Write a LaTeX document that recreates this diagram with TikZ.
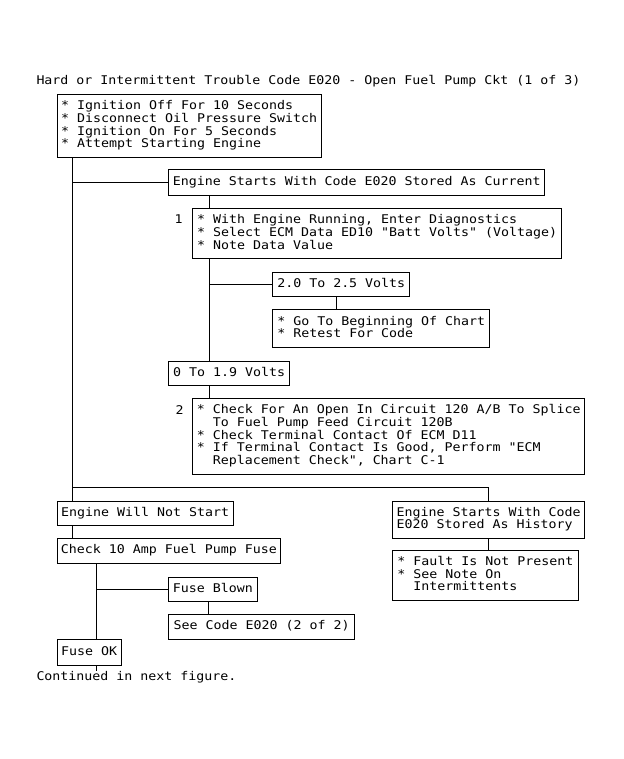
\documentclass[tikz,border=0pt]{standalone}
\usepackage{fontspec}
\setmonofont{DejaVu Sans Mono}[FakeStretch=1.107,WordSpace={1,0,0}]
\newcommand\sst{\rule[-3.5pt]{0pt}{12.7pt}}
\tikzset{
  txt/.style={font=\ttfamily\fontsize{12}{12.7}\selectfont, inner sep=0pt},
  bx/.style={txt, draw, line width=0.9pt, anchor=north west,
    inner xsep=3.7pt, inner ysep=0pt, align=left,
    execute at begin node={\sst},
    execute at end node={\sst}},
  ln/.style={line width=0.9pt},
}
\newcommand\ind{\hspace*{16pt}}
\begin{document}
\begin{tikzpicture}[x=1pt,y=1pt]
\useasboundingbox (0,0) rectangle (623,-759);
% title and free labels
\node[txt, anchor=base west] (title) at (36.3,-85) {Hard or Intermittent Trouble Code E020 - Open Fuel Pump Ckt (1 of 3)};
% boxes
\node[bx, minimum width=264pt, minimum height=63.3pt] (box1) at (56.7,-94)
  {* Ignition Off For 10 Seconds\\{}* Disconnect Oil Pressure Switch\\{}* Ignition On For 5 Seconds\\{}* Attempt Starting Engine};
\node[bx, minimum width=376pt, minimum height=25.7pt] (ecur) at (168.3,-169.3)
  {Engine Starts With Code E020 Stored As Current};
\node[bx, minimum width=368.7pt, minimum height=50pt] (diag) at (192.3,-208.3)
  {* With Engine Running, Enter Diagnostics\\{}* Select ECM Data ED10 "Batt Volts" (Voltage)\\{}* Note Data Value};
\node[txt, anchor=base west] (n1) at (174.5,-223.5) {1};
\node[bx, minimum width=137pt, minimum height=24.3pt] (v2) at (272.3,-271.7)
  {2.0 To 2.5 Volts};
\node[bx, minimum width=217pt, minimum height=38pt] (goto) at (272.3,-309.3)
  {* Go To Beginning Of Chart\\{}* Retest For Code};
\node[bx, minimum width=120.7pt, minimum height=24.6pt] (v1) at (168.3,-360.7)
  {0 To 1.9 Volts};
\node[bx, minimum width=392pt, minimum height=75.2pt] (chk) at (192.3,-398.3)
  {* Check For An Open In Circuit 120 A/B To Splice\\\ind To Fuel Pump Feed Circuit 120B\\{}* Check Terminal Contact Of ECM D11\\{}* If Terminal Contact Is Good, Perform "ECM\\\ind Replacement Check", Chart C-1};
\node[txt, anchor=base west] (n2) at (175.5,-414.5) {2};
\node[bx, minimum width=176pt, minimum height=24.3pt] (ewns) at (56.7,-500.7)
  {Engine Will Not Start};
\node[bx, minimum width=192.3pt, minimum height=37.3pt] (hist) at (392,-500.7)
  {Engine Starts With Code\\E020 Stored As History};
\node[bx, minimum width=185.7pt, minimum height=50pt] (fault) at (392,-550)
  {* Fault Is Not Present\\{}* See Note On\\\ind Intermittents};
\node[bx, minimum width=223.3pt, minimum height=24.4pt] (fuse) at (56.7,-538.3)
  {Check 10 Amp Fuel Pump Fuse};
\node[bx, minimum width=88.4pt, minimum height=24.3pt] (blown) at (168.3,-576.7)
  {Fuse Blown};
\node[bx, minimum width=185.7pt, minimum height=24.7pt] (see) at (168.3,-614.3)
  {See Code E020 (2 of 2)};
\node[bx, minimum width=64pt, minimum height=26pt] (ok) at (56.7,-639.3)
  {Fuse OK};
\node[txt, anchor=base west] (cont) at (36.3,-680.5) {Continued in next figure.};
% connectors
\coordinate (j1) at ([xshift=16pt]box1.south west |- 0,-487.3);
\coordinate (stub) at ([xshift=40pt,yshift=-4.7pt]ok.south west);
\draw[ln] ([xshift=16pt]box1.south west) -- ([xshift=16pt]ewns.north west);
\draw[ln] ([xshift=16pt]box1.south west |- ecur.west) -- (ecur.west);
\draw[ln] (j1) -| (hist.north);
\draw[ln] ([xshift=40.7pt]ecur.south west) -- ([xshift=40.7pt]ecur.south west |- diag.north);
\draw[ln] ([xshift=40.7pt]v1.north west |- diag.south) -- ([xshift=40.7pt]v1.north west);
\draw[ln] ([xshift=40.7pt]v1.north west |- v2.west) -- (v2.west);
\draw[ln] ([xshift=63.7pt]v2.south west) -- ([xshift=63.7pt]v2.south west |- goto.north);
\draw[ln] ([xshift=40.7pt]v1.south west) -- ([xshift=40.7pt]v1.south west |- chk.north);
\draw[ln] (hist.south) -- (hist.south |- fault.north);
\draw[ln] ([xshift=16pt]ewns.south west) -- ([xshift=16pt]fuse.north west);
\draw[ln] ([xshift=40pt]fuse.south west) -- ([xshift=40pt]ok.north west);
\draw[ln] ([xshift=40pt]fuse.south west |- blown.west) -- (blown.west);
\draw[ln] ([xshift=40pt]blown.south west) -- ([xshift=40pt]blown.south west |- see.north);
\draw[ln] ([xshift=40pt]ok.south west) -- (stub);
\end{tikzpicture}
\end{document}
